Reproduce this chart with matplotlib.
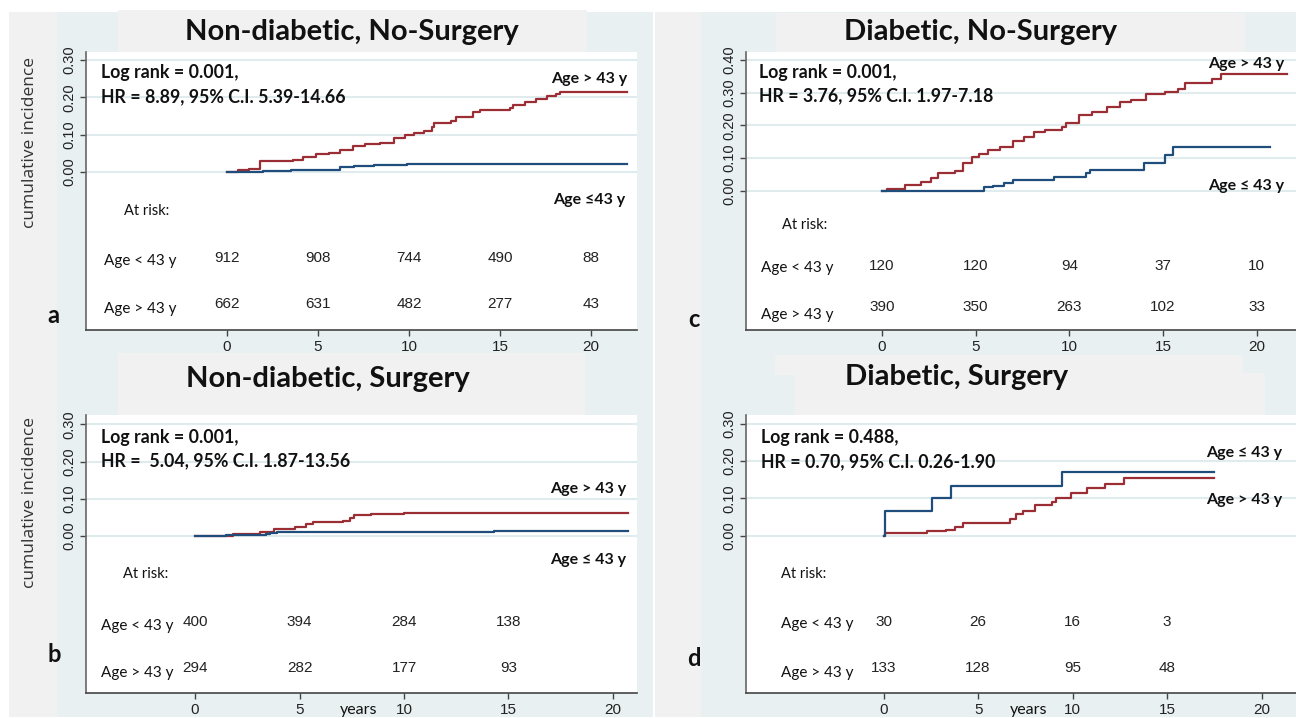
import matplotlib
matplotlib.use("Agg")
import matplotlib.pyplot as plt
from matplotlib.patches import Rectangle
from matplotlib.transforms import blended_transform_factory

W, H = 1296, 718

# ---------------- data ----------------
years = [0, 5, 10, 15, 20]

# a: non-diabetic, no surgery
a_old_t = [0, 0.6, 1.2, 1.8, 3.6, 4.2, 4.9, 5.6, 6.2, 6.9, 7.6, 8.4, 9.2, 9.8, 10.3, 10.8,
           11.25, 11.4, 12.3, 12.6, 13.5, 13.9, 15.55, 15.7, 16.4, 17.0, 17.6, 18.1, 18.3, 22.0]
a_old_ci = [0, 0.004, 0.008, 0.029, 0.032, 0.040, 0.047, 0.050, 0.058, 0.070, 0.074, 0.078,
            0.090, 0.098, 0.104, 0.110, 0.121, 0.132, 0.137, 0.148, 0.160, 0.165, 0.172, 0.179,
            0.188, 0.195, 0.202, 0.208, 0.215, 0.215]
a_young_t = [0, 2.0, 3.5, 4.9, 6.2, 7.0, 8.1, 9.9, 11.25, 22.0]
a_young_ci = [0, 0.002, 0.004, 0.006, 0.013, 0.015, 0.018, 0.020, 0.022, 0.022]
a_risk_young = [912, 908, 744, 490, 88]
a_risk_old = [662, 631, 482, 277, 43]

# c: diabetic, no surgery
c_old_t = [0, 0.26, 0.9, 1.25, 2.1, 2.6, 3.0, 3.9, 4.3, 4.8, 5.2, 5.65, 6.3, 7.0, 7.6, 8.1,
           8.7, 9.6, 9.8, 10.5, 11.2, 12.0, 12.7, 13.3, 14.1, 15.1, 15.8, 16.2, 17.6, 18.1, 21.6]
c_old_ci = [0, 0.004, 0.006, 0.019, 0.028, 0.038, 0.055, 0.061, 0.084, 0.104, 0.112, 0.124,
            0.135, 0.152, 0.165, 0.179, 0.186, 0.194, 0.206, 0.232, 0.241, 0.255, 0.272, 0.277,
            0.296, 0.303, 0.310, 0.331, 0.341, 0.357, 0.357]
c_young_t = [0, 5.43, 5.9, 6.5, 7.0, 9.2, 10.9, 11.1, 14.0, 15.1, 15.55, 20.7]
c_young_ci = [0, 0.012, 0.015, 0.023, 0.033, 0.043, 0.053, 0.064, 0.084, 0.110, 0.135, 0.135]
c_risk_young = [120, 120, 94, 37, 10]
c_risk_old = [390, 350, 263, 102, 33]

# b: non-diabetic, surgery
b_old_t = [0, 1.6, 1.8, 2.4, 3.1, 3.8, 4.8, 5.3, 5.65, 7.1, 7.4, 7.6, 8.4, 10.0, 20.7]
b_old_ci = [0, 0.001, 0.004, 0.006, 0.011, 0.018, 0.025, 0.032, 0.038, 0.040, 0.047, 0.055,
            0.059, 0.063, 0.063]
b_young_t = [0, 1.5, 3.4, 3.6, 3.9, 14.3, 20.7]
b_young_ci = [0, 0.002, 0.0045, 0.009, 0.010, 0.014, 0.014]
b_risk_young = [400, 394, 284, 138]
b_risk_old = [294, 282, 177, 93]

# d: diabetic, surgery
d_old_t = [0, 0.07, 2.3, 3.3, 3.8, 4.2, 6.7, 7.0, 7.4, 8.0, 8.9, 9.1, 9.9, 10.75, 11.7, 12.7, 17.5]
d_old_ci = [0, 0.007, 0.013, 0.015, 0.024, 0.035, 0.045, 0.058, 0.067, 0.082, 0.091, 0.100,
            0.115, 0.127, 0.140, 0.154, 0.154]
d_young_t = [0, 0.07, 2.57, 3.55, 9.44, 17.5]
d_young_ci = [0, 0.067, 0.100, 0.133, 0.172, 0.172]
d_risk_young = [30, 26, 16, 3]
d_risk_old = [133, 128, 95, 48]

RED = "#9b2d35"
BLUE = "#1f4d7c"
BLUISH = "#e9f0f2"
GREY_BG = "#f1f1f1"
GRID = "#e0ebee"

BOLD = dict(family=["Lato", "DejaVu Sans"], fontweight="bold", color="#111111")
REG = dict(family=["Lato", "DejaVu Sans"], color="#111111")
NUM = dict(family=["Liberation Sans"], color="#222222")

fig = plt.figure(figsize=(W / 100, H / 100), dpi=100)
fig.patch.set_facecolor("white")


def rect(x0, y0, x1, y1, color):
    fig.patches.append(Rectangle((x0 / W, 1 - y1 / H), (x1 - x0) / W, (y1 - y0) / H,
                                 transform=fig.transFigure, facecolor=color,
                                 edgecolor="none", zorder=-5))


def ftext(x, y, s, **kw):
    fig.text(x / W, 1 - y / H, s, zorder=10, **kw)


# panel backgrounds
rect(9, 12, 57, 717, GREY_BG)
rect(57, 12, 653, 717, BLUISH)
rect(655, 12, 701, 717, GREY_BG)
rect(701, 12, 1296, 717, BLUISH)
# title boxes
rect(118, 10, 587, 52, GREY_BG)
rect(118, 353, 585, 415, GREY_BG)
rect(776, 13, 1245, 55, GREY_BG)
rect(775, 355, 1243, 375, GREY_BG)
rect(795, 373, 1265, 415, GREY_BG)


def make_panel(box, xlim, ylim, yticks):
    x0, y0, x1, y1 = box
    ax = fig.add_axes([x0 / W, 1 - y1 / H, (x1 - x0) / W, (y1 - y0) / H])
    ax.set_facecolor("white")
    ax.set_xlim(*xlim)
    ax.set_ylim(*ylim)
    for s in ("top", "right"):
        ax.spines[s].set_visible(False)
    ax.spines["left"].set_color("#666666")
    ax.spines["bottom"].set_color("#444444")
    ax.spines["left"].set_linewidth(1.2)
    ax.spines["bottom"].set_linewidth(1.2)
    ax.set_xticks(years)
    ax.set_xticklabels([str(v) for v in years], fontsize=11, family="Liberation Sans",
                       color="#222222")
    ax.set_yticks(yticks)
    ax.set_yticklabels([f"{v:.2f}" for v in yticks], fontsize=10.5, family="Liberation Sans",
                       color="#222222", rotation=90, va="center")
    ax.tick_params(axis="both", length=4, width=1, color="#444444")
    ax.tick_params(axis="x", pad=3)
    ax.tick_params(axis="y", pad=3)
    for v in yticks:
        ax.axhline(v, color=GRID, lw=1.5, zorder=1)
    return ax


def curves(ax, t_old, ci_old, t_young, ci_young):
    ax.step(t_old, ci_old, where="post", color=RED, lw=1.6, zorder=3)
    ax.step(t_young, ci_young, where="post", color=BLUE, lw=1.6, zorder=3)


def risk_numbers(ax, young, old, y_young, y_old):
    tr = blended_transform_factory(ax.transData, fig.transFigure)
    for x, n in zip(years, young):
        ax.text(x, 1 - y_young / H, str(n), transform=tr, ha="center", va="baseline",
                fontsize=11, **NUM)
    for x, n in zip(years, old):
        ax.text(x, 1 - y_old / H, str(n), transform=tr, ha="center", va="baseline",
                fontsize=11, **NUM)


TITLE_FS = 21
STAT_FS = 12.8
LAB_FS = 11.5
ROW_FS = 11
RISK_FS = 10.5
YLAB_FS = 12.5

# ---------------- panel a ----------------
ax_a = make_panel((86, 52, 637, 330), (-7.75, 22.53), (-0.423, 0.321), [0, 0.1, 0.2, 0.3])
curves(ax_a, a_old_t, a_old_ci, a_young_t, a_young_ci)
ftext(352, 40, "Non-diabetic, No-Surgery", ha="center", va="baseline", fontsize=TITLE_FS, **BOLD)
ftext(101, 78, "Log rank = 0.001,", ha="left", va="baseline", fontsize=STAT_FS, **BOLD)
ftext(101, 102, "HR = 8.89, 95% C.I. 5.39-14.66", ha="left", va="baseline", fontsize=STAT_FS, **BOLD)
ftext(627, 83, "Age > 43 y", ha="right", va="baseline", fontsize=LAB_FS, **BOLD)
ftext(625, 204, "Age \u226443 y", ha="right", va="baseline", fontsize=LAB_FS, **BOLD)
ftext(124, 215, "At risk:", ha="left", va="baseline", fontsize=RISK_FS, **REG)
ftext(104, 265, "Age < 43 y", ha="left", va="baseline", fontsize=ROW_FS, **REG)
ftext(104, 313, "Age > 43 y", ha="left", va="baseline", fontsize=ROW_FS, **REG)
risk_numbers(ax_a, a_risk_young, a_risk_old, 262, 308)
ftext(53, 323, "a", ha="center", va="baseline", fontsize=17, **BOLD)
ftext(30, 142, "cumulative incidence", ha="center", va="center", rotation=90,
      fontsize=YLAB_FS, family="Open Sans", color="#333333")

# ---------------- panel c ----------------
ax_c = make_panel((746, 52, 1296, 330), (-7.26, 22.1), (-0.426, 0.4245),
                  [0, 0.1, 0.2, 0.3, 0.4])
curves(ax_c, c_old_t, c_old_ci, c_young_t, c_young_ci)
ftext(981, 40, "Diabetic, No-Surgery", ha="center", va="baseline", fontsize=TITLE_FS, **BOLD)
ftext(759, 78, "Log rank = 0.001,", ha="left", va="baseline", fontsize=STAT_FS, **BOLD)
ftext(759, 101, "HR = 3.76, 95% C.I. 1.97-7.18", ha="left", va="baseline", fontsize=STAT_FS, **BOLD)
ftext(1284, 68, "Age > 43 y", ha="right", va="baseline", fontsize=LAB_FS, **BOLD)
ftext(1284, 190, "Age \u2264 43 y", ha="right", va="baseline", fontsize=LAB_FS, **BOLD)
ftext(782, 229, "At risk:", ha="left", va="baseline", fontsize=RISK_FS, **REG)
ftext(761, 272, "Age < 43 y", ha="left", va="baseline", fontsize=ROW_FS, **REG)
ftext(761, 319, "Age > 43 y", ha="left", va="baseline", fontsize=ROW_FS, **REG)
risk_numbers(ax_c, c_risk_young, c_risk_old, 270, 311)
ftext(694, 327, "c", ha="center", va="baseline", fontsize=17, **BOLD)

# ---------------- panel b ----------------
ax_b = make_panel((86, 415, 637, 693), (-5.22, 21.15), (-0.422, 0.325), [0, 0.1, 0.2, 0.3])
curves(ax_b, b_old_t, b_old_ci, b_young_t, b_young_ci)
ftext(328, 387, "Non-diabetic, Surgery", ha="center", va="baseline", fontsize=TITLE_FS, **BOLD)
ftext(101, 443, "Log rank = 0.001,", ha="left", va="baseline", fontsize=STAT_FS, **BOLD)
ftext(101, 466, "HR =  5.04, 95% C.I. 1.87-13.56", ha="left", va="baseline", fontsize=STAT_FS, **BOLD)
ftext(626, 493, "Age > 43 y", ha="right", va="baseline", fontsize=LAB_FS, **BOLD)
ftext(626, 564, "Age \u2264 43 y", ha="right", va="baseline", fontsize=LAB_FS, **BOLD)
ftext(123, 578, "At risk:", ha="left", va="baseline", fontsize=RISK_FS, **REG)
ftext(101, 630, "Age < 43 y", ha="left", va="baseline", fontsize=ROW_FS, **REG)
ftext(101, 677, "Age > 43 y", ha="left", va="baseline", fontsize=ROW_FS, **REG)
risk_numbers(ax_b, b_risk_young, b_risk_old, 626, 672)
ftext(54, 662, "b", ha="center", va="baseline", fontsize=17, **BOLD)
ftext(30, 502, "cumulative incidence", ha="center", va="center", rotation=90,
      fontsize=YLAB_FS, family="Open Sans", color="#333333")
ftext(359, 714, "years", ha="center", va="baseline", fontsize=11.5, **REG)

# ---------------- panel d ----------------
ax_d = make_panel((746, 415, 1296, 693), (-7.28, 21.82), (-0.4225, 0.324), [0, 0.1, 0.2, 0.3])
curves(ax_d, d_old_t, d_old_ci, d_young_t, d_young_ci)
ftext(957, 385, "Diabetic, Surgery", ha="center", va="baseline", fontsize=TITLE_FS, **BOLD)
ftext(761, 443, "Log rank = 0.488,", ha="left", va="baseline", fontsize=STAT_FS, **BOLD)
ftext(761, 467, "HR = 0.70, 95% C.I. 0.26-1.90", ha="left", va="baseline", fontsize=STAT_FS, **BOLD)
ftext(1282, 457, "Age \u2264 43 y", ha="right", va="baseline", fontsize=LAB_FS, **BOLD)
ftext(1282, 504, "Age > 43 y", ha="right", va="baseline", fontsize=LAB_FS, **BOLD)
ftext(781, 578, "At risk:", ha="left", va="baseline", fontsize=RISK_FS, **REG)
ftext(781, 628, "Age < 43 y", ha="left", va="baseline", fontsize=ROW_FS, **REG)
ftext(781, 677, "Age > 43 y", ha="left", va="baseline", fontsize=ROW_FS, **REG)
risk_numbers(ax_d, d_risk_young, d_risk_old, 626, 672)
ftext(694, 666, "d", ha="center", va="baseline", fontsize=17, **BOLD)
ftext(1029, 714, "years", ha="center", va="baseline", fontsize=11.5, **REG)

fig.savefig("out.png", dpi=100, facecolor="white")
